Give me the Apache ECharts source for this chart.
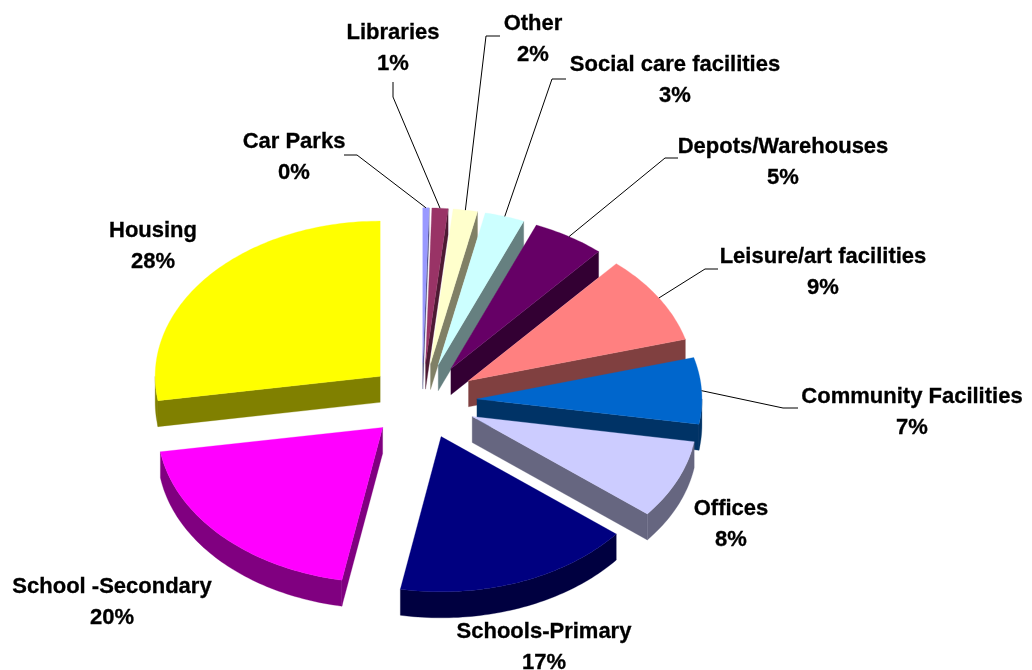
<!DOCTYPE html>
<html>
<head>
<meta charset="utf-8">
<style>html,body{margin:0;padding:0;background:#fff}#c{width:1032px;height:670px}</style>
<script src="https://cdn.jsdelivr.net/npm/echarts@6/dist/echarts.min.js"></script>
</head>
<body>
<div id="c"></div>
<script>
// ---- data (clockwise from twelve o'clock) ----
const categories = ['Car Parks','Libraries','Other','Social care facilities','Depots/Warehouses','Leisure/art facilities','Community Facilities','Offices','Schools-Primary','School -Secondary','Housing'];
const values = [0.45,1.15,1.75,2.85,5.2,9.3,6.9,8.2,17.1,19.6,27.5];

// ---- styles ----
const topColors  = ['#9999FF','#993366','#FFFFCC','#CCFFFF','#660066','#FF8080','#0066CC','#CCCCFF','#000080','#FF00FF','#FFFF00'];
const wallColors = ['#4D4D80','#4D1A33','#808066','#668080','#330033','#804040','#003366','#666680','#000040','#800080','#808000'];

// ---- label placement ----
const labelCenters = [[294,157],[393,48],[533,39],[675,80],[783,162],[823,272],[912,412],[731,524],[544,647],[112,602],[153,246]];
const leaderPaths = [[[344,155],[357,155]],[[393,82],[393,97]],[[500,36],[486,36]],[[566,79],[552,79]],[[678,158],[665,158]],[[718,269],[705,269]],[[798,408],[783,408]],null,null,null,null];

// ---- projection ----
const view = {cx:422, cy:401, rx:225, tilt:0.69, depth:26, explode:55};
const total = values.reduce((a,b)=>a+b,0);
const starts = []; let run = 0;
values.forEach(v=>{starts.push(run); run += v;});
const toRad = v => v/total*2*Math.PI;

function project(apex, a, r, h){
  return [apex[0]+r*Math.sin(a), apex[1]-r*Math.cos(a)*view.tilt+(h||0)];
}
function arc(apex, a0, a1, h){
  const n = Math.max(2, Math.ceil((a1-a0)/0.02)), pts=[];
  for(let i=0;i<=n;i++) pts.push(project(apex, a0+(a1-a0)*i/n, view.rx, h));
  return pts;
}
function renderItem(params, api){
  const i = api.value(0), v = api.value(1);
  const a0 = toRad(starts[i]), a1 = toRad(starts[i]+v), mid=(a0+a1)/2;
  const apex = project([view.cx,view.cy], mid, view.explode);
  const base = Math.round((1-Math.cos(mid))*1000);
  const children=[];
  const poly=(points,fill,z)=>children.push({type:'polygon',z2:base+z,shape:{points},style:{fill,stroke:fill,lineWidth:0.3},silent:true});
  const d=view.depth, wall=wallColors[i];
  const radial=(a)=>{const o=project(apex,a,view.rx);poly([apex,o,[o[0],o[1]+d],[apex[0],apex[1]+d]],wall,0);};
  if(Math.sin(a0)<0) radial(a0);
  if(Math.sin(a1)>0) radial(a1);
  const w0=Math.max(a0,Math.PI/2), w1=Math.min(a1,Math.PI*1.5);
  if(w1>w0) poly(arc(apex,w0,w1,0).concat(arc(apex,w0,w1,d).reverse()),wall,1);
  poly([apex].concat(arc(apex,a0,a1,0)),topColors[i],2);
  // leader line
  if(leaderPaths[i]){
    const anchor=project(apex,mid,view.rx);
    children.push({type:'polyline',z2:5000,shape:{points:leaderPaths[i].concat([anchor])},style:{fill:null,stroke:'#000',lineWidth:1},silent:true});
  }
  // label
  const c=labelCenters[i];
  children.push({type:'text',z2:6000,x:c[0],y:c[1],silent:true,style:{
    text:categories[i]+'\n'+Math.round(v/total*100)+'%',
    align:'center',verticalAlign:'middle',lineHeight:31,
    font:'bold 22px "Liberation Sans", Arial, sans-serif',fill:'#000',stroke:'#000',lineWidth:0.3}});
  return {type:'group',children};
}
const chart = echarts.init(document.getElementById('c'),null,{renderer:'canvas'});
chart.setOption({
  animation:false,
  backgroundColor:'#fff',
  series:[{type:'custom',coordinateSystem:'none',renderItem,silent:true,
    data:values.map((v,i)=>[i,v])}]
});
</script>
</body>
</html>
